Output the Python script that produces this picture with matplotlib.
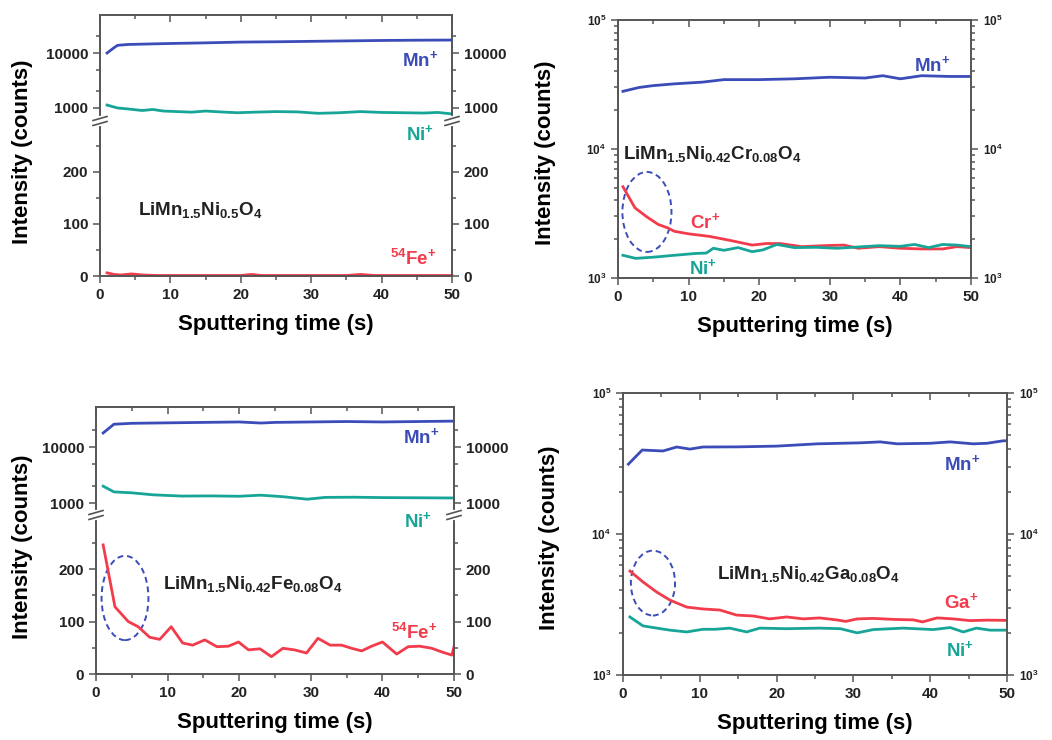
import matplotlib
matplotlib.use("Agg")
import matplotlib.pyplot as plt
from matplotlib.patches import Ellipse
from matplotlib.lines import Line2D
from matplotlib.ticker import FixedLocator, NullFormatter

plt.rcParams['font.family'] = ['Liberation Sans', 'DejaVu Sans']
plt.rcParams['font.weight'] = 'bold'
plt.rcParams['mathtext.fontset'] = 'custom'
plt.rcParams['mathtext.rm'] = 'Liberation Sans:bold'
plt.rcParams['mathtext.bf'] = 'Liberation Sans:bold'
plt.rcParams['mathtext.it'] = 'Liberation Sans:bold'

W, H = 1052, 740
BLUE = '#3b4cb8'
TEAL = '#17a597'
RED = '#f23c4c'
SPINE = '#555555'

# ---- data ----
# top-left: LiMn1.5Ni0.5O4
tl_t_mn = [1, 2, 2.5, 4, 7, 10, 15, 20, 25, 30, 35, 40, 45, 50]
tl_mn = [10000, 12500, 13800, 14300, 14600, 14900, 15300, 15800, 16000, 16300, 16600, 16900, 17100, 17200]
tl_t_ni = [1, 2.5, 4, 6, 7.5, 9, 11, 13, 15, 17, 19.5, 22, 25, 28, 31, 34, 37, 40, 43, 46, 48, 50]
tl_ni = [1130, 1000, 960, 900, 940, 880, 860, 840, 880, 850, 820, 840, 860, 850, 800, 820, 860, 830, 820, 810, 830, 780]
tl_t_fe = [1, 2, 3, 4.5, 6, 8, 12, 16, 20, 21.5, 23, 27, 31, 35, 37, 39, 43, 47, 50]
tl_fe = [6, 3, 2, 4, 2, 1, 1, 1, 1, 3, 1, 1, 1, 1, 3, 1, 1, 1, 1]

# top-right: LiMn1.5Ni0.42Cr0.08O4
tr_t_mn = [0.7, 3, 5, 8, 12, 15, 20, 25, 30, 35, 37.5, 40, 43, 47, 50]
tr_mn = [28000, 30000, 31000, 32000, 33000, 34500, 34500, 35000, 36000, 35500, 37000, 35000, 37000, 36500, 36500]
tr_t_cr = [0.7, 2.4, 4, 5.7, 7, 8, 10, 13, 16, 19, 21, 23, 26, 29, 32, 34, 37, 40, 43, 46, 48, 50]
tr_cr = [5100, 3500, 3000, 2600, 2450, 2300, 2200, 2100, 1950, 1800, 1850, 1850, 1750, 1780, 1800, 1700, 1750, 1700, 1680, 1680, 1750, 1720]
tr_t_ni = [0.7, 2.5, 5, 8, 11, 12.5, 13.5, 15, 17, 19, 20.5, 22.5, 25, 28, 31, 34, 37, 40, 42, 44, 46, 48, 50]
tr_ni = [1500, 1420, 1450, 1500, 1550, 1560, 1700, 1640, 1720, 1600, 1650, 1820, 1720, 1730, 1700, 1740, 1780, 1760, 1820, 1720, 1820, 1800, 1750]

# bottom-left: LiMn1.5Ni0.42Fe0.08O4
bl_t_mn = [1, 2.5, 5, 10, 15, 20, 23, 25, 30, 35, 40, 45, 50]
bl_mn = [17800, 25500, 26500, 27000, 27500, 28000, 26800, 27500, 28000, 28500, 28000, 28500, 29000]
bl_t_ni = [1, 2.5, 5, 8, 12, 16, 20, 23, 26, 29.5, 32, 36, 40, 45, 50]
bl_ni = [2000, 1580, 1520, 1400, 1330, 1340, 1320, 1380, 1300, 1170, 1260, 1270, 1250, 1240, 1230]
bl_t_fe = [1.0, 2.65, 4.5, 5.9, 7.5, 8.9, 10.5, 12.1, 13.5, 15.2, 16.9, 18.5, 19.9, 21.3, 22.9, 24.5, 26.1,
           27.7, 29.4, 31.0, 32.7, 34.3, 35.7, 37.1, 38.5, 40.0, 42.0, 43.6, 45.2, 46.9, 48.3, 49.7, 50]
bl_fe = [246, 128, 100, 90, 70, 66, 90, 59, 55, 65, 52, 53, 61, 46, 48, 33, 49,
         46, 40, 68, 55, 55, 49, 44, 53, 61, 38, 52, 53, 49, 42, 36, 52]

# bottom-right: LiMn1.5Ni0.42Ga0.08O4
br_t_mn = [0.7, 2.5, 5.2, 7, 8.7, 10.4, 15, 20, 25.3, 30.8, 33.5, 35.7, 40, 42.6, 45.6, 47.4, 49.5, 50]
br_mn = [31300, 39400, 38800, 41400, 40000, 41400, 41500, 42000, 43600, 44300, 45000, 43600, 44000, 45000, 43600, 44000, 45800, 45800]
br_t_ga = [0.9, 2.6, 4.4, 6.1, 8.3, 10.4, 12.6, 14.8, 17, 19.1, 21.3, 23.5, 25.6, 27.8, 29, 30.5, 32.6,
           35.2, 37.8, 39, 40.9, 43, 45.2, 47.4, 50]
br_ga = [5460, 4570, 3870, 3400, 3030, 2940, 2890, 2660, 2620, 2500, 2580, 2500, 2540, 2460, 2400, 2500, 2520,
         2480, 2460, 2380, 2540, 2500, 2430, 2450, 2440]
br_t_ni = [0.9, 2.6, 4.4, 6.1, 8.3, 10.4, 12, 13.9, 16.1, 17.8, 21.3, 25.6, 28.3, 30.5, 32.6, 36.5, 40.4,
           42.6, 44.3, 46, 47.8, 50]
br_ni = [2580, 2230, 2150, 2080, 2020, 2110, 2110, 2150, 2020, 2150, 2130, 2150, 2130, 1990, 2100, 2150, 2100,
         2170, 2020, 2150, 2080, 2080]


fig = plt.figure(figsize=(W / 100, H / 100), dpi=100)

AXIS_FS = 16
TICK_FS = 11
XPAD = 9


def rect(left, top, right, bottom):
    return [left / W, 1 - bottom / H, (right - left) / W, (bottom - top) / H]


def fx(x):
    return x / W


def fy(y):
    return 1 - y / H


def style(ax):
    for s in ax.spines.values():
        s.set_color(SPINE)
        s.set_linewidth(1.4)
    ax.tick_params(which='both', colors=SPINE, labelcolor='#222222', labelsize=TICK_FS, width=1.1)
    ax.tick_params(which='major', length=5)
    ax.tick_params(which='minor', length=3)
    ax.tick_params(axis='y', which='both', direction='out', left=True, right=True, labelright=True)
    ax.set_xlim(0, 50)
    ax.xaxis.set_major_locator(FixedLocator([0, 10, 20, 30, 40, 50]))
    ax.xaxis.set_minor_locator(FixedLocator([5, 15, 25, 35, 45]))


def xbottom(ax):
    ax.tick_params(axis='x', which='both', direction='out', bottom=True, top=False, labelbottom=True)
    ax.set_xlabel('Sputtering time (s)', fontsize=AXIS_FS, fontweight='bold', labelpad=XPAD)
    top = ax.secondary_xaxis('top')
    top.set_xticks([0, 10, 20, 30, 40, 50])
    top.xaxis.set_minor_locator(FixedLocator([5, 15, 25, 35, 45]))
    top.tick_params(which='both', direction='in', colors=SPINE, labeltop=False, width=1.1)
    top.tick_params(which='major', length=5)
    top.tick_params(which='minor', length=3)
    top.spines['top'].set_visible(False)


def break_marks(xs, y):
    for x in xs:
        fig.add_artist(Line2D([fx(x), fx(x)], [fy(y - 3), fy(y + 3)], color='white', lw=3))
        for d in (-2.5, 2.5):
            fig.add_artist(Line2D([fx(x - 7), fx(x + 7)], [fy(y + d + 2), fy(y + d - 2)],
                                  color=SPINE, lw=1.2))


def broken_panel(left, top, right, bottom, brk, up_lim, lo_lim):
    ax_up = fig.add_axes(rect(left, top, right, brk))
    ax_lo = fig.add_axes(rect(left, brk, right, bottom))
    for ax in (ax_up, ax_lo):
        style(ax)
    ax_up.set_yscale('log')
    ax_up.set_ylim(*up_lim)
    ax_up.yaxis.set_major_locator(FixedLocator([1000, 10000]))
    ax_up.set_yticklabels(['1000', '10000'])
    ax_up.yaxis.set_minor_locator(FixedLocator([2000, 5000, 20000]))
    ax_up.yaxis.set_minor_formatter(NullFormatter())
    ax_up.spines['bottom'].set_visible(False)
    ax_up.tick_params(axis='x', which='both', direction='in', top=True, bottom=False, labelbottom=False)
    ax_lo.set_ylim(*lo_lim)
    ax_lo.yaxis.set_major_locator(FixedLocator([0, 100, 200]))
    ax_lo.yaxis.set_minor_locator(FixedLocator([50, 150, 250]))
    ax_lo.spines['top'].set_visible(False)
    ax_lo.tick_params(axis='x', which='both', direction='out', bottom=True, top=False)
    ax_lo.set_xlabel('Sputtering time (s)', fontsize=AXIS_FS, fontweight='bold', labelpad=XPAD)
    break_marks([left, right], brk)
    fig.text(fx(23), fy((top + bottom) / 2 + 6), 'Intensity (counts)', rotation=90,
             ha='center', va='center', fontsize=AXIS_FS, fontweight='bold')
    return ax_up, ax_lo


def log_panel(left, top, right, bottom, ylab_x):
    ax = fig.add_axes(rect(left, top, right, bottom))
    style(ax)
    ax.set_yscale('log')
    ax.set_ylim(1e3, 1e5)
    ax.yaxis.set_minor_formatter(NullFormatter())
    ax.tick_params(axis='y', which='major', labelsize=8.5)
    xbottom(ax)
    fig.text(fx(ylab_x), fy((top + bottom) / 2 + 4), 'Intensity (counts)', rotation=90,
             ha='center', va='center', fontsize=AXIS_FS, fontweight='bold')
    return ax


def label(x, y, s, color, size=13.5, ha='center'):
    fig.text(fx(x), fy(y), s, color=color, fontsize=size, fontweight='bold', ha=ha, va='center')


LW = 2.0
FORM_FS = 13.5

# ---- top-left ----
up, lo = broken_panel(100, 15, 452, 276, 121, (580, 49100), (0, 298))
up.plot(tl_t_mn, tl_mn, color=BLUE, lw=LW)
up.plot(tl_t_ni, tl_ni, color=TEAL, lw=LW)
lo.plot(tl_t_fe, tl_fe, color=RED, lw=LW, clip_on=False)
label(420, 60, r'Mn$^{+}$', BLUE)
label(420, 134, r'Ni$^{+}$', TEAL)
label(413, 259, r'$^{54}$Fe$^{+}$', RED)
label(138, 210, r'LiMn$_{1.5}$Ni$_{0.5}$O$_{4}$', '#222222', size=FORM_FS, ha='left')

# ---- bottom-left ----
up, lo = broken_panel(96, 407, 454, 674, 515, (611, 51800), (0, 303))
up.plot(bl_t_mn, bl_mn, color=BLUE, lw=LW)
up.plot(bl_t_ni, bl_ni, color=TEAL, lw=LW)
lo.plot(bl_t_fe, bl_fe, color=RED, lw=LW)
lo.add_patch(Ellipse((0.081, 0.478), 0.131, 0.53, transform=lo.transAxes, fill=False,
                     ec=BLUE, ls=(0, (3, 2)), lw=1.4))
label(421, 437, r'Mn$^{+}$', BLUE)
label(418, 521, r'Ni$^{+}$', TEAL)
label(414, 633, r'$^{54}$Fe$^{+}$', RED)
label(163, 584, r'LiMn$_{1.5}$Ni$_{0.42}$Fe$_{0.08}$O$_{4}$', '#222222', size=FORM_FS, ha='left')

# ---- top-right ----
ax = log_panel(618, 20, 971, 278, 546)
ax.plot(tr_t_mn, tr_mn, color=BLUE, lw=LW)
ax.plot(tr_t_cr, tr_cr, color=RED, lw=LW)
ax.plot(tr_t_ni, tr_ni, color=TEAL, lw=LW)
ax.add_patch(Ellipse((0.082, 0.256), 0.139, 0.31, transform=ax.transAxes, fill=False,
                     ec=BLUE, ls=(0, (3, 2)), lw=1.4))
label(932, 65, r'Mn$^{+}$', BLUE)
label(705, 222, r'Cr$^{+}$', RED)
label(703, 268, r'Ni$^{+}$', TEAL)
label(623, 154, r'LiMn$_{1.5}$Ni$_{0.42}$Cr$_{0.08}$O$_{4}$', '#222222', size=FORM_FS, ha='left')

# ---- bottom-right ----
ax = log_panel(623, 393, 1007, 675, 549)
ax.plot(br_t_mn, br_mn, color=BLUE, lw=LW)
ax.plot(br_t_ga, br_ga, color=RED, lw=LW)
ax.plot(br_t_ni, br_ni, color=TEAL, lw=LW)
ax.add_patch(Ellipse((0.078, 0.326), 0.115, 0.23, transform=ax.transAxes, fill=False,
                     ec=BLUE, ls=(0, (3, 2)), lw=1.4))
label(962, 464, r'Mn$^{+}$', BLUE)
label(961, 602, r'Ga$^{+}$', RED)
label(960, 650, r'Ni$^{+}$', TEAL)
label(717, 574, r'LiMn$_{1.5}$Ni$_{0.42}$Ga$_{0.08}$O$_{4}$', '#222222', size=FORM_FS, ha='left')

fig.savefig('out.png', dpi=100)
